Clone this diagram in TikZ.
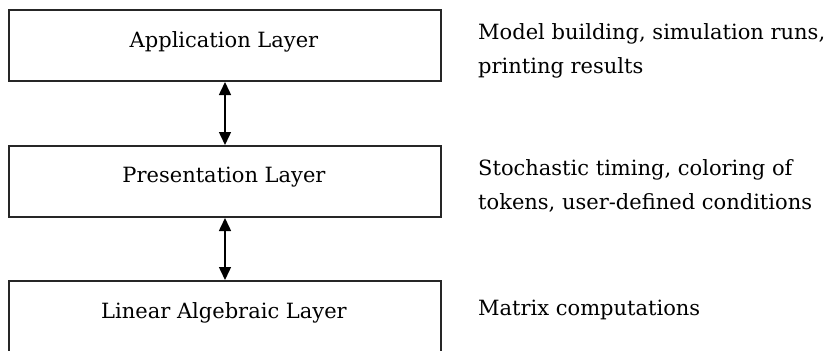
\documentclass[tikz,border=0pt]{standalone}
\usepackage{fontspec}
\setmainfont{DejaVu Serif}
\usetikzlibrary{arrows.meta}
\begin{document}
\begin{tikzpicture}[x=1pt,y=-1pt,
  layer/.style={draw=black!85, line width=2pt, minimum width=432pt, minimum height=71pt, inner sep=0pt, anchor=north west},
  lbl/.style={font=\fontsize{21}{34}\selectfont, inner sep=0pt, anchor=base},
  desc/.style={font=\fontsize{21}{34}\selectfont, inner sep=0pt, anchor=base west, align=left},
  link/.style={line width=1.5pt, {Triangle[width=12pt,length=13pt]}-{Triangle[width=12pt,length=13pt]}}]
\useasboundingbox (0,0) rectangle (828,351);
\clip (0,0) rectangle (828,351);
\node[layer] (b1) at (8,9) {};
\node[layer] (b2) at (8,145) {};
\node[layer, minimum height=100pt] (b3) at (8,280) {};
\node[lbl] (t1) at (224,47) {Application Layer};
\node[lbl] (t2) at (224,182) {Presentation Layer};
\node[lbl] (t3) at (224,318) {Linear Algebraic Layer};
\draw[link] (b1.south) -- (b2.north);
\draw[link] (b2.south) -- (b3.north);
\node[desc] (d1) at (478,73) {Model building, simulation runs,\\printing results};
\node[desc] (d2) at (478,209) {Stochastic timing, coloring of\\tokens, user-defined conditions};
\node[desc] (d3) at (478,315) {Matrix computations};
\end{tikzpicture}
\end{document}
